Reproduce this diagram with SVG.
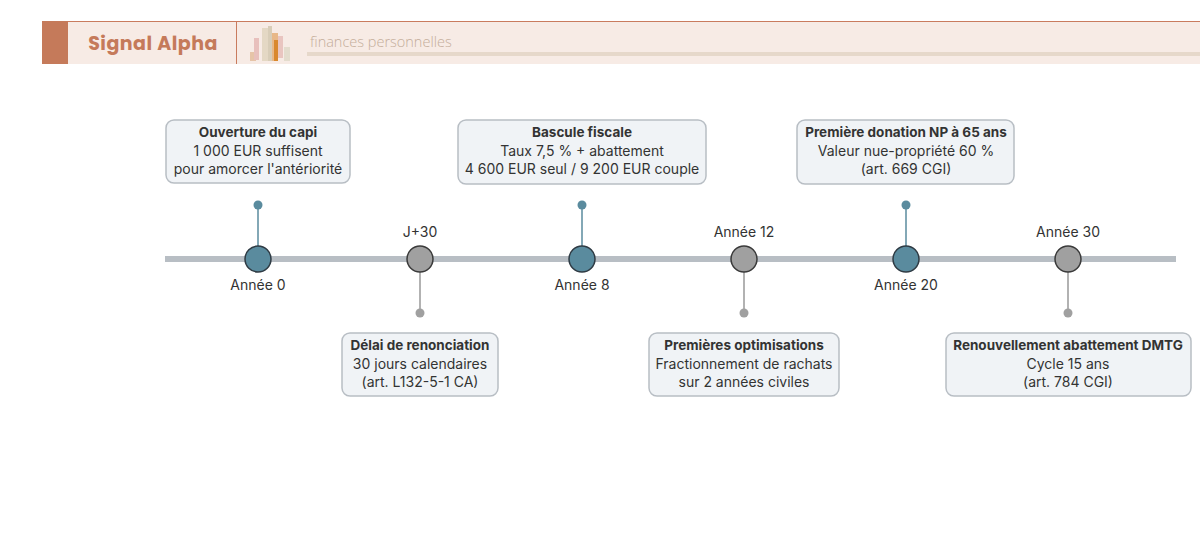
<svg xmlns="http://www.w3.org/2000/svg" width="1200" height="541" viewBox="0 0 1200 541">
<style>
.box{fill:#f0f3f6;stroke:#b8bec4;stroke-width:1.5}
.t{font-family:Inter,"Noto Sans",sans-serif;font-size:14px;fill:#333;text-anchor:middle}
.b{font-weight:bold;font-size:13.5px}
.lbl{font-family:Inter,"Noto Sans",sans-serif;font-size:14px;fill:#333;text-anchor:middle}
.ct{fill:#5a8b9e;stroke:#2f3b44;stroke-width:1.5}
.cg{fill:#a0a0a0;stroke:#3a3a3a;stroke-width:1.5}
</style>
<rect width="1200" height="541" fill="#fff"/>
<g id="header">
<rect x="42" y="21" width="1158" height="43" fill="#f7ebe5"/>
<line x1="42" y1="21.5" x2="1200" y2="21.5" stroke="#c97b5e" stroke-width="1"/>
<rect x="42" y="21" width="26" height="43" fill="#c57a5a"/>
<line x1="236.5" y1="21" x2="236.5" y2="64" stroke="#c97b5e" stroke-width="1"/>
<text x="153" y="50" font-family="Poppins,'Open Sans',sans-serif" font-size="19" font-weight="bold" fill="#c57a5a" text-anchor="middle" letter-spacing="0.5">Signal Alpha</text>
<rect x="250" y="52" width="6" height="9" fill="#e6c4a8"/>
<rect x="254" y="38" width="5" height="22" fill="#e8c0bc"/>
<rect x="262" y="28" width="6" height="33" fill="#e4d8c4"/>
<rect x="268" y="26" width="4" height="35" fill="#d8cdb8"/>
<rect x="272" y="33" width="6" height="28" fill="#e8b888"/>
<rect x="274" y="40" width="4" height="21" fill="#d9882e"/>
<rect x="278" y="36" width="5" height="22" fill="#e9c5c0"/>
<rect x="284" y="47" width="6" height="14" fill="#e3dccd"/>
<text x="310" y="47" font-family="'Open Sans',sans-serif" font-size="14.5" font-weight="300" fill="#c4ad9a">finances personnelles</text>
<rect x="307" y="52" width="893" height="4" fill="#e6d8ca"/>
</g>
<g id="connectors">
<line x1="165" y1="259" x2="1176" y2="259" stroke="#b8bec4" stroke-width="6"/>
<g stroke-width="1.5">
<line x1="258" y1="205" x2="258" y2="246" stroke="#5a8b9e"/>
<line x1="582" y1="205" x2="582" y2="246" stroke="#5a8b9e"/>
<line x1="906" y1="205" x2="906" y2="246" stroke="#5a8b9e"/>
<line x1="420" y1="272" x2="420" y2="313" stroke="#999"/>
<line x1="744" y1="272" x2="744" y2="313" stroke="#999"/>
<line x1="1068" y1="272" x2="1068" y2="313" stroke="#999"/>
</g>
<circle cx="258" cy="205" r="4.5" fill="#5a8b9e"/>
<circle cx="582" cy="205" r="4.5" fill="#5a8b9e"/>
<circle cx="906" cy="205" r="4.5" fill="#5a8b9e"/>
<circle cx="420" cy="313" r="4.5" fill="#a0a0a0"/>
<circle cx="744" cy="313" r="4.5" fill="#a0a0a0"/>
<circle cx="1068" cy="313" r="4.5" fill="#a0a0a0"/>
</g>
<g id="m0"><circle class="ct" cx="258" cy="259" r="13"/><text class="lbl" x="258" y="290">Année 0</text>
<rect class="box" x="166" y="120" width="184" height="63" rx="8"/>
<text class="t b" x="258" y="137">Ouverture du capi</text><text class="t" x="258" y="156">1 000 EUR suffisent</text><text class="t" x="258" y="174">pour amorcer l'antériorité</text></g>
<g id="m1"><circle class="cg" cx="420" cy="259" r="13"/><text class="lbl" x="420" y="237">J+30</text>
<rect class="box" x="342" y="333" width="156" height="63" rx="8"/>
<text class="t b" x="420" y="350">Délai de renonciation</text><text class="t" x="420" y="369">30 jours calendaires</text><text class="t" x="420" y="387">(art. L132-5-1 CA)</text></g>
<g id="m2"><circle class="ct" cx="582" cy="259" r="13"/><text class="lbl" x="582" y="290">Année 8</text>
<rect class="box" x="458" y="120" width="248" height="64" rx="8"/>
<text class="t b" x="582" y="137">Bascule fiscale</text><text class="t" x="582" y="156">Taux 7,5 % + abattement</text><text class="t" x="582" y="174">4 600 EUR seul / 9 200 EUR couple</text></g>
<g id="m3"><circle class="cg" cx="744" cy="259" r="13"/><text class="lbl" x="744" y="237">Année 12</text>
<rect class="box" x="649" y="333" width="190" height="63" rx="8"/>
<text class="t b" x="744" y="350">Premières optimisations</text><text class="t" x="744" y="369">Fractionnement de rachats</text><text class="t" x="744" y="387">sur 2 années civiles</text></g>
<g id="m4"><circle class="ct" cx="906" cy="259" r="13"/><text class="lbl" x="906" y="290">Année 20</text>
<rect class="box" x="797" y="120" width="217" height="64" rx="8"/>
<text class="t b" x="906" y="137">Première donation NP à 65 ans</text><text class="t" x="906" y="156">Valeur nue-propriété 60 %</text><text class="t" x="906" y="174">(art. 669 CGI)</text></g>
<g id="m5"><circle class="cg" cx="1068" cy="259" r="13"/><text class="lbl" x="1068" y="237">Année 30</text>
<rect class="box" x="946" y="333" width="245" height="63" rx="8"/>
<text class="t b" x="1068" y="350">Renouvellement abattement DMTG</text><text class="t" x="1068" y="369">Cycle 15 ans</text><text class="t" x="1068" y="387">(art. 784 CGI)</text></g>
</svg>
